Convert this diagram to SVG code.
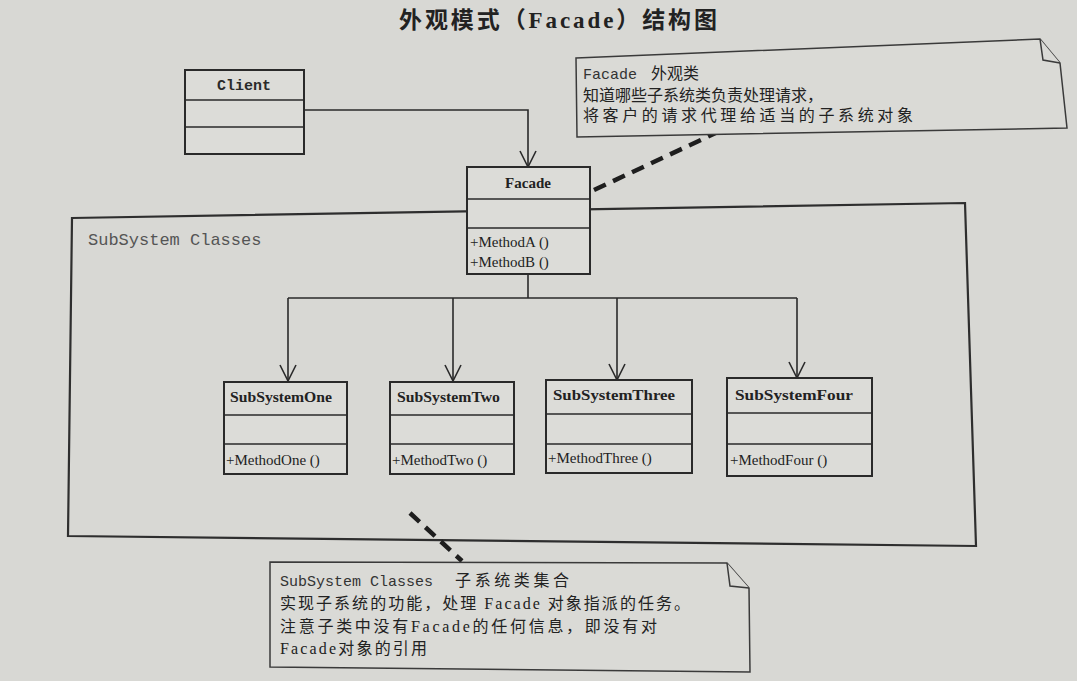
<svg xmlns="http://www.w3.org/2000/svg" width="1077" height="681" viewBox="0 0 1077 681">
<defs>
<style>
.bg{fill:#d8d8d4}
.box{fill:#dcdcd8;stroke:#2a2a2a;stroke-width:2}
.ln{fill:none;stroke:#2a2a2a;stroke-width:1.6}
.frame{fill:none;stroke:#2e2e2e;stroke-width:2.2}
.dash{fill:none;stroke:#1e1e1e;stroke-width:4.5;stroke-dasharray:13 8}
.note{fill:#dadad6;stroke:#3a3a3a;stroke-width:1.5}
.title{font-family:"Liberation Serif","Noto Sans CJK SC",serif;font-size:23px;font-weight:bold;fill:#222}
.cls{font-family:"Liberation Serif","Noto Sans CJK SC",serif;font-size:15px;font-weight:bold;fill:#222}
.mono{font-family:"Liberation Mono",monospace;font-size:15px;font-weight:bold;fill:#2a2a2a}
.mth{font-family:"Liberation Serif",serif;font-size:15px;fill:#222}
.lbl{font-family:"Liberation Mono",monospace;font-size:17px;fill:#555}
.nt{font-family:"Liberation Serif","Noto Sans CJK SC",serif;font-size:16px;fill:#222}
.ntm{font-family:"Liberation Mono","Noto Sans CJK SC",monospace;font-size:15px;fill:#333}
</style>
<marker id="open" markerWidth="20" markerHeight="20" refX="18" refY="10" orient="auto" markerUnits="userSpaceOnUse" viewBox="0 0 20 20">
<path d="M2,2 L18,10 L2,18" fill="none" stroke="#2a2a2a" stroke-width="1.6"/>
</marker>
</defs>
<rect class="bg" x="0" y="0" width="1077" height="681"/>
<text class="title" x="558" y="28" text-anchor="middle" textLength="318" lengthAdjust="spacing">外观模式（Facade）结构图</text>

<g id="subsystem-frame">
<polygon class="frame" points="72,218 965,203 976,546 68,536"/>
<text class="lbl" x="88" y="245">SubSystem Classes</text>
</g>

<g id="connectors">
<polyline class="ln" points="304,110 528,110 528,167" marker-end="url(#open)"/>
<line class="ln" x1="528" y1="274" x2="528" y2="298"/>
<line class="ln" x1="288" y1="298" x2="797" y2="298"/>
<line class="ln" x1="288" y1="298" x2="288" y2="381" marker-end="url(#open)"/>
<line class="ln" x1="453" y1="298" x2="453" y2="381" marker-end="url(#open)"/>
<line class="ln" x1="617" y1="298" x2="617" y2="380" marker-end="url(#open)"/>
<line class="ln" x1="797" y1="298" x2="797" y2="378" marker-end="url(#open)"/>
<line class="dash" x1="594" y1="190" x2="720" y2="131"/>
<line class="dash" x1="410" y1="513" x2="462" y2="561"/>
</g>

<g id="client">
<rect class="box" x="185" y="70" width="119" height="84"/>
<line class="ln" x1="185" y1="100" x2="304" y2="100"/>
<line class="ln" x1="185" y1="127" x2="304" y2="127"/>
<text class="mono" x="244" y="90" text-anchor="middle">Client</text>
</g>

<g id="facade">
<rect class="box" x="467" y="167" width="123" height="107"/>
<line class="ln" x1="467" y1="199" x2="590" y2="199"/>
<line class="ln" x1="467" y1="228" x2="590" y2="228"/>
<text class="cls" x="528" y="188" text-anchor="middle">Facade</text>
<text class="mth" x="470" y="247">+MethodA ()</text>
<text class="mth" x="470" y="267">+MethodB ()</text>
</g>

<g id="subsystem-one">
<rect class="box" x="224" y="382" width="123" height="92"/>
<line class="ln" x1="224" y1="415" x2="347" y2="415"/>
<line class="ln" x1="224" y1="444" x2="347" y2="444"/>
<text class="cls" x="230" y="402" textLength="102" lengthAdjust="spacingAndGlyphs">SubSystemOne</text>
<text class="mth" x="226" y="465">+MethodOne ()</text>
</g>

<g id="subsystem-two">
<rect class="box" x="390" y="382" width="124" height="92"/>
<line class="ln" x1="390" y1="415" x2="514" y2="415"/>
<line class="ln" x1="390" y1="444" x2="514" y2="444"/>
<text class="cls" x="397" y="402" textLength="103" lengthAdjust="spacingAndGlyphs">SubSystemTwo</text>
<text class="mth" x="392" y="465">+MethodTwo ()</text>
</g>

<g id="subsystem-three">
<rect class="box" x="546" y="380" width="146" height="93"/>
<line class="ln" x1="546" y1="414" x2="692" y2="414"/>
<line class="ln" x1="546" y1="444" x2="692" y2="444"/>
<text class="cls" x="553" y="400" textLength="122" lengthAdjust="spacingAndGlyphs">SubSystemThree</text>
<text class="mth" x="548" y="463">+MethodThree ()</text>
</g>

<g id="subsystem-four">
<rect class="box" x="727" y="378" width="145" height="98"/>
<line class="ln" x1="727" y1="413" x2="872" y2="413"/>
<line class="ln" x1="727" y1="444" x2="872" y2="444"/>
<text class="cls" x="735" y="400" textLength="118" lengthAdjust="spacingAndGlyphs">SubSystemFour</text>
<text class="mth" x="730" y="465">+MethodFour ()</text>
</g>

<g id="facade-note">
<polygon class="note" points="576,58 1040,39 1060,63 1067,128 577,137"/>
<polyline class="note" points="1040,39 1043,60 1060,63" fill="none"/>
<text class="nt" x="583" y="79"><tspan class="ntm" font-size="14">Facade</tspan><tspan dx="14">外观类</tspan></text>
<text class="nt" x="583" y="101" textLength="240" lengthAdjust="spacing">知道哪些子系统类负责处理请求，</text>
<text class="nt" x="583" y="121" textLength="330" lengthAdjust="spacing">将客户的请求代理给适当的子系统对象</text>
</g>

<g id="subsystem-note">
<polygon class="note" points="270,562 727,563 749,588 750,672 270,667"/>
<polyline class="note" points="727,563 730,586 749,588" fill="none"/>
<text class="nt" x="280" y="586"><tspan class="ntm" font-size="14">SubSystem Classes</tspan><tspan dx="22" textLength="114" lengthAdjust="spacing">子系统类集合</tspan></text>
<text class="nt" x="280" y="609" textLength="410" lengthAdjust="spacing">实现子系统的功能，处理 Facade 对象指派的任务。</text>
<text class="nt" x="280" y="632" textLength="377" lengthAdjust="spacing">注意子类中没有Facade的任何信息，即没有对</text>
<text class="nt" x="280" y="654" textLength="147" lengthAdjust="spacing">Facade对象的引用</text>
</g>
</svg>
